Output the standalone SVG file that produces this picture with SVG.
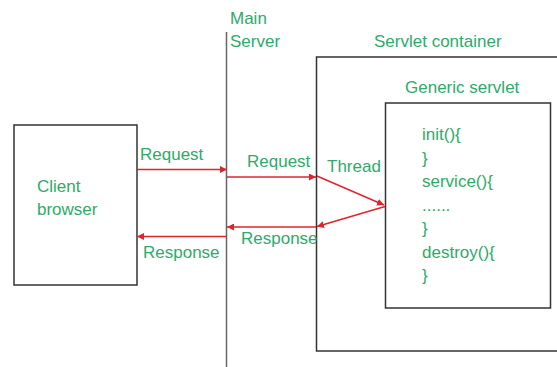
<svg xmlns="http://www.w3.org/2000/svg" width="557" height="367" viewBox="0 0 557 367">
<defs>
<style>
text{font-family:"Liberation Sans",Arial,sans-serif;font-size:17px;fill:#2eaa6a}
.box{fill:#fff;stroke:#333;stroke-width:1.5}
.conn{stroke:#e0242b;stroke-width:1.5;fill:none}
</style>
<marker id="ah" viewBox="0 0 10 10" refX="10" refY="5" markerWidth="7" markerHeight="7" markerUnits="userSpaceOnUse" orient="auto"><path d="M0,0 L10,5 L0,10 z" fill="#e0242b"/></marker>
</defs>
<rect width="557" height="367" fill="#fff"/>
<g id="main-server">
<line x1="226.5" y1="32" x2="226.5" y2="367" stroke="#666" stroke-width="1.5"/>
<text x="230" y="24">Main</text>
<text x="230" y="47">Server</text>
</g>
<g id="client-browser">
<rect class="box" x="14" y="125" width="123" height="160"/>
<text x="37" y="192">Client</text>
<text x="37" y="215">browser</text>
</g>
<g id="servlet-container">
<rect class="box" x="316.5" y="57" width="250" height="294"/>
<text x="374" y="47">Servlet container</text>
</g>
<g id="generic-servlet">
<rect class="box" x="385.5" y="103" width="165" height="205"/>
<text x="405" y="93">Generic servlet</text>
<text x="422" y="140">init(){</text>
<text x="422" y="163.5">}</text>
<text x="422" y="187">service(){</text>
<text x="422" y="210.5">......</text>
<text x="422" y="234">}</text>
<text x="422" y="257.5">destroy(){</text>
<text x="422" y="281">}</text>
</g>
<g id="connectors">
<line class="conn" x1="137" y1="169.5" x2="227" y2="169.5" marker-end="url(#ah)"/>
<line class="conn" x1="227" y1="177" x2="316" y2="177" marker-end="url(#ah)"/>
<line class="conn" x1="317" y1="176" x2="384" y2="205" marker-end="url(#ah)"/>
<line class="conn" x1="385" y1="206.5" x2="317" y2="226.5" marker-end="url(#ah)"/>
<line class="conn" x1="316" y1="227" x2="227" y2="227" marker-end="url(#ah)"/>
<line class="conn" x1="226" y1="236.5" x2="137" y2="236.5" marker-end="url(#ah)"/>
<text x="140" y="160">Request</text>
<text x="247" y="167">Request</text>
<text x="327" y="172">Thread</text>
<text x="241" y="243.5">Response</text>
<text x="143" y="258">Response</text>
</g>
</svg>
